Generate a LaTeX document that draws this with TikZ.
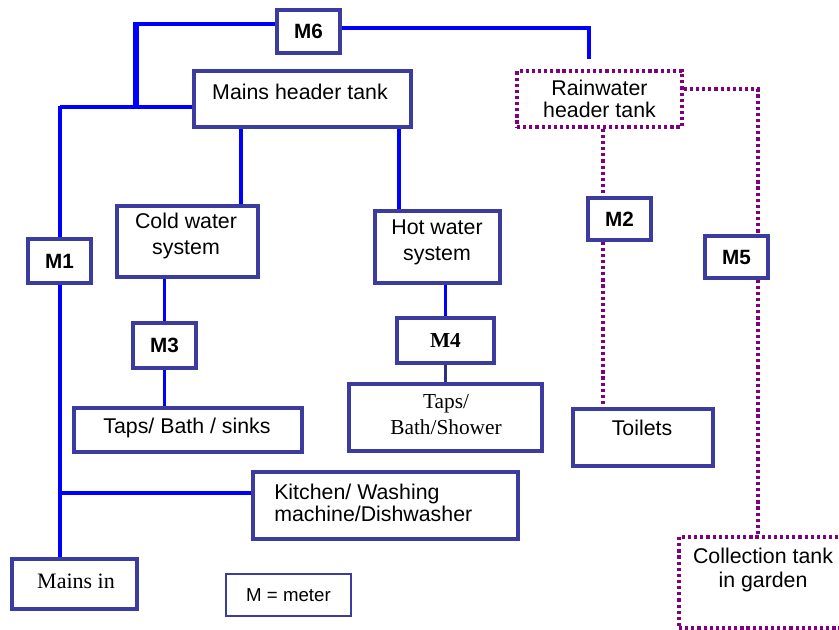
\documentclass[tikz,border=0pt]{standalone}
\usepackage{fontspec}
\setmainfont{Liberation Sans}
\newfontfamily\seriffont{Liberation Serif}
\usetikzlibrary{backgrounds}
\definecolor{boxc}{RGB}{60,60,160}
\definecolor{pipe}{RGB}{0,0,255}
\definecolor{rainc}{RGB}{128,0,128}
\tikzset{
  x=0.75pt, y=-0.75pt,
  box/.style={draw=boxc, line width=2.3pt, fill=white, rectangle, inner sep=0pt, align=center,
    font=\fontsize{16}{19}\selectfont},
  meter/.style={box, font=\fontsize{15.5}{18}\selectfont\bfseries},
  rainbox/.style={draw=rainc, line width=2.6pt, dash pattern=on 2.4pt off 2.2pt, fill=white, rectangle,
    inner sep=0pt, align=center, font=\fontsize{16}{16}\selectfont},
  pipeline/.style={draw=pipe, line width=2.8pt},
  thickpipe/.style={draw=pipe, line width=4.6pt},
  rainline/.style={draw=rainc, line width=2.6pt, dash pattern=on 2.4pt off 2.2pt},
  lbl/.style={inner sep=0pt, align=center},
}
\begin{document}
\begin{tikzpicture}
\clip (0,0) rectangle (839,630);
\useasboundingbox (0,0) rectangle (839,630);
% boxes
\node[meter, minimum width=47.25pt, minimum height=32.25pt] (M6) at (308.5,31.5) {M6};
\node[box, minimum width=162.75pt, minimum height=42pt] (MHT) at (302.5,99) {};
\node[lbl, font=\fontsize{16}{19}\selectfont] (MHTt) at (300,92) {Mains header tank};
\node[box, minimum width=105.75pt, minimum height=53.25pt] (CWS) at (187.5,241.5) {};
\node[lbl, font=\fontsize{16}{19.5}\selectfont] (CWSt) at (186,236) {Cold water\\system};
\node[box, minimum width=93.75pt, minimum height=54pt] (HWS) at (437.5,247) {};
\node[lbl, font=\fontsize{16}{19.5}\selectfont] (HWSt) at (437,242) {Hot water\\system};
\node[meter, minimum width=47.25pt, minimum height=33pt] (M1) at (59.5,261) {M1};
\node[meter, minimum width=47.25pt, minimum height=33.75pt] (M3) at (164.5,345.5) {M3};
\node[box, minimum width=171pt, minimum height=33pt] (TBS) at (188,430) {};
\node[lbl, font=\fontsize{16}{19}\selectfont] (TBSt) at (187,428) {Taps/ Bath / sinks};
\node[box, minimum width=198.75pt, minimum height=50.25pt] (KIT) at (385.5,505.5) {};
\node[lbl, anchor=west, align=left, font=\fontsize{16}{16.5}\selectfont] (KITt) at (274,503) {Kitchen/ Washing\\machine/Dishwasher};
\node[box, minimum width=93.75pt, minimum height=37.5pt] (MIN) at (74.5,584) {};
\node[lbl, font=\fontsize{16.5}{19}\selectfont\seriffont] (MINt) at (76,581) {Mains in};
\node[box, line width=1.4pt, minimum width=93.75pt, minimum height=31.5pt, font=\fontsize{14}{16}\selectfont] (KEY) at (288.5,595) {M = meter};
\node[box, minimum width=72.75pt, minimum height=33.75pt, font=\fontsize{16}{19}\selectfont\seriffont\bfseries] (M4) at (445.5,340.5) {M4};
\node[box, minimum width=144.75pt, minimum height=50.25pt] (TBSH) at (445.5,417.5) {};
\node[lbl, font=\fontsize{16}{19.5}\selectfont\seriffont] (TBSHt) at (446,415) {Taps/\\Bath/Shower};
\node[box, minimum width=105pt, minimum height=42.75pt] (TOI) at (643,437.5) {};
\node[lbl, font=\fontsize{16}{19}\selectfont] (TOIt) at (642,428) {Toilets};
\node[rainbox, minimum width=123.75pt, minimum height=42pt] (RAIN) at (599.5,99) {Rainwater\\header tank};
\node[meter, minimum width=47.25pt, minimum height=31.5pt] (M2) at (619.5,219) {M2};
\node[meter, minimum width=47.25pt, minimum height=31.5pt] (M5) at (736.5,257) {M5};
\node[rainbox, minimum width=122.25pt, minimum height=68.25pt] (COL) at (760.5,582.5) {};
\node[lbl, font=\fontsize{16}{18}\selectfont] (COLt) at (763,570) {Collection tank\\in garden};
% junction coordinates
\coordinate (j6) at (136,24);
\coordinate (jh) at (136,107);
\coordinate (jl) at (60,107);
\coordinate (jr) at (589,28);
\coordinate (rtop) at (589,59);
\coordinate (xc) at (241,0);
\coordinate (xh) at (399,0);
\coordinate (jk) at (60,493);
\coordinate (xr) at (603,0);
\coordinate (jre) at (758,89);
\begin{scope}[on background layer]
  \draw[pipeline] (j6 -| M6.west) -- ([xshift=-1.7pt]j6);
  \draw[thickpipe] ([yshift=1.2pt]j6) -- (jh);
  \draw[pipeline] (jl) -- (jl -| MHT.west);
  \draw[pipeline] ([yshift=1pt]jl) -- (jl |- M1.north);
  \draw[pipeline] (jr -| M6.east) -- (jr) -- (rtop);
  \draw[pipeline] (xc |- MHT.south) -- (xc |- CWS.north);
  \draw[pipeline] (xh |- MHT.south) -- (xh |- HWS.north);
  \draw[pipeline] (M3.north |- CWS.south) -- (M3.north);
  \draw[pipeline] (M3.south) -- (M3.south |- TBS.north);
  \draw[pipeline] (M4.north |- HWS.south) -- (M4.north);
  \draw[pipeline, draw=boxc!80!black] (M4.south) -- (M4.south |- TBSH.north);
  \draw[pipeline] (jk |- M1.south) -- (jk |- MIN.north);
  \draw[pipeline] (jk) -- (jk -| KIT.west);
  \draw[rainline] (xr |- RAIN.south) -- (xr |- M2.north);
  \draw[rainline] (xr |- M2.south) -- (xr |- TOI.north);
  \draw[rainline] (jre -| RAIN.east) -- (jre) -- (jre |- M5.north);
  \draw[rainline] (jre |- M5.south) -- (jre |- COL.north);
\end{scope}
\end{tikzpicture}
\end{document}
